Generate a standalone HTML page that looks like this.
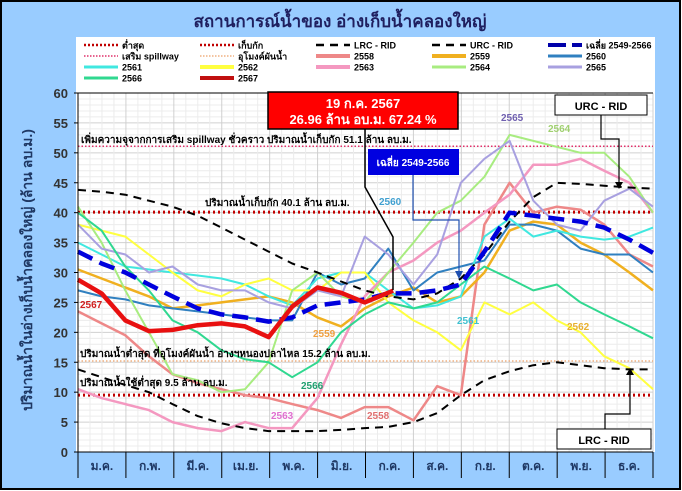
<!DOCTYPE html>
<html><head><meta charset="utf-8">
<style>
html,body{margin:0;padding:0;background:#fff}
#wrap{position:relative;width:682px;height:491px;overflow:hidden}
svg{display:block}
</style></head>
<body>
<div id="wrap">
<svg id="chart" width="682" height="491" xmlns="http://www.w3.org/2000/svg" font-family="'Liberation Sans','Noto Sans CJK SC',sans-serif">
<rect x="1" y="1" width="679" height="488" fill="#99ccff" stroke="#000" stroke-width="2"/>
<rect x="76" y="37" width="579" height="415" fill="#fff"/>
<text x="340" y="27" text-anchor="middle" font-size="17" font-weight="bold" fill="#1f1f5f">สถานการณ์น้ำของ อ่างเก็บน้ำคลองใหญ่</text>
<g id="grid"></g>
<g id="refs"></g>
<g id="series"></g>
<g id="axes"></g>
<g id="legend"></g>
<text x="32" y="270" transform="rotate(-90 32 270)" text-anchor="middle" font-size="14" font-weight="bold" fill="#1f3864">ปริมาณน้ำในอ่างเก็บน้ำคลองใหญ่ (ล้าน ลบ.ม.)</text>
<g font-size="10" font-weight="bold" fill="#000">
<text x="81" y="143">เพิ่มความจุจากการเสริม spillway ชั่วคราว ปริมาณน้ำเก็บกัก 51.1 ล้าน ลบ.ม.</text>
<text x="205" y="206">ปริมาณน้ำเก็บกัก 40.1 ล้าน ลบ.ม.</text>
<text x="80" y="357">ปริมาณน้ำต่ำสุด ที่อุโมงค์ผันน้ำ อ่างฯหนองปลาไหล 15.2 ล้าน ลบ.ม.</text>
<text x="80" y="386">ปริมาณน้ำใช้ต่ำสุด 9.5 ล้าน ลบ.ม.</text>
</g>
<g font-size="10" font-weight="bold">
<text x="80" y="308" fill="#d02020">2567</text>
<text x="313" y="337" fill="#f0a040">2559</text>
<text x="301" y="389" fill="#20a070">2566</text>
<text x="271" y="419" fill="#e070d0">2563</text>
<text x="367" y="419" fill="#e07070">2558</text>
<text x="457" y="324" fill="#40c0d0">2561</text>
<text x="567" y="330" fill="#e8b030">2562</text>
<text x="379" y="205" fill="#40a0d0">2560</text>
<text x="501" y="121" fill="#7060b0">2565</text>
<text x="548" y="132" fill="#a0d070">2564</text>
</g>
<g id="annot">
<polyline points="365,128 365,187 393,237 393,290" fill="none" stroke="#000" stroke-width="1.5"/>
<rect x="268" y="92" width="190" height="37" fill="#ff0000" stroke="#000" stroke-width="1.5"/>
<text x="363" y="108" text-anchor="middle" font-size="13" font-weight="bold" fill="#fff">19 ก.ค. 2567</text>
<text x="363" y="124" text-anchor="middle" font-size="13" font-weight="bold" fill="#fff">26.96 ล้าน อบ.ม. 67.24 %</text>
<polyline points="413,175 413,220 459,220 459,272" fill="none" stroke="#2050b0" stroke-width="1.2"/>
<polygon points="455,271 463,271 459,279" fill="#2050b0"/>
<rect x="368" y="149" width="91" height="26" fill="#0000e0"/>
<text x="413" y="166" text-anchor="middle" font-size="10" font-weight="bold" fill="#fff">เฉลี่ย 2549-2566</text>
<polyline points="601,114 601,139 619,139 619,183" fill="none" stroke="#000" stroke-width="1.2"/>
<polygon points="615,182 623,182 619,189" fill="#000"/>
<rect x="555" y="95" width="92" height="20" fill="#fff" stroke="#000"/>
<text x="601" y="110" text-anchor="middle" font-size="11" font-weight="bold">URC - RID</text>
<polyline points="605,429 605,414 630,414 630,374" fill="none" stroke="#000" stroke-width="1.2"/>
<polygon points="626,375 634,375 630,368" fill="#000"/>
<rect x="557" y="429" width="94" height="20" fill="#fff" stroke="#000"/>
<text x="604" y="444" text-anchor="middle" font-size="11" font-weight="bold">LRC - RID</text>
</g>
</svg>
</div>
<script>
const months=["ม.ค.","ก.พ.","มี.ค.","เม.ย.","พ.ค.","มิ.ย.","ก.ค.","ส.ค.","ก.ย.","ต.ค.","พ.ย.","ธ.ค."];
const yTicks=[0,5,10,15,20,25,30,35,40,45,50,55,60];
const halfMonthDays=[0,15,30,45,60,76,91,106,121,136,152,167,182,197,213,228,243,258,274,289,304,319,334,350,365];
const refLevels=[51.1,40.1,15.2,9.5];
const lrc=[13.8,12.5,11.2,10,8,6,4.8,4,3.5,3.5,3.5,3.7,4,4.2,5,6.5,9.5,12,13.5,14.5,15,14.5,14,13.8,13.8];
const urc=[43.8,43.5,43,42,41,39.5,37.5,35.5,33.5,31.5,30,28.5,27,26,25.5,26.5,29,33,38.5,42.6,45,44.8,44.5,44.2,44];
const avg=[33.5,31.5,30,28,26,24,23,22.5,21.8,22.5,24.5,25,25.5,26.5,26.5,27,28,33.5,40,39.5,39,38.5,37.5,35.5,33.3];
const y2558=[23.5,21.5,19.5,16,13,11.5,10.5,9.5,9,8,7,5.7,7.5,7.5,5.3,11,9.5,38,45,40,41,40.5,38,33,31];
const y2559=[30.5,29,27.5,26,24,24.5,25,25.5,26,25,22.5,21,24,26,27.5,25,26,30,37,38.5,38,35,33,30,27];
const y2560=[27,26,25.5,24.5,24,23.5,23,22.5,22,22,30,28,29,34,27,30,31,32,38,38,37,34,33,33,30];
const y2561=[35,33,31,30.5,30,29.5,29,28,26,24.5,29,30,30,27,24,24.5,26,36,39,36,37,36,35.5,36,37.5];
const y2562=[38,37,36,33,30,27,26,28,29,27,27,30,30,25,22,20,17,25,23,25,22,20,16,14,10.5];
const y2563=[10.5,9,8,7,5,4,3.5,5,4,4,9,18,26,30,32,35,37,40,43,48,48,49,47,45,40];
const y2564=[41,35,27,20,13,12,10,10.5,15,27,30,26,25,30,35,40,42,46,53,52,51,50,50,46,40];
const y2565=[38,34,33,30,31,28,27,27,25,24,27,26,36,33,28,33,45,49,52,42,38,37,42,44,41];
const y2566=[40,37,31,27,22,20,17,15.5,15,12.5,15,20,23,25,24,25,28,31,29,27,28,25,23,21,19];
const days2567=[0,15,30,45,60,76,91,106,121,136,152,167,182,200];
const y2567=[28.8,26.5,22,20.2,20.4,21.2,21.5,21,19.2,24.3,27.5,26.6,25,26.96];

const X0=78,X1=653,Y0=452,Y1=93;
const xs=d=>X0+d/365*(X1-X0);
const ys=v=>Y0-v/60*(Y0-Y1);
const NS="http://www.w3.org/2000/svg";
function mk(tag,parent){const e=document.createElementNS(NS,tag);parent.appendChild(e);return e;}

const grid=document.getElementById('grid');
for(let v=0;v<=60;v++){
  const l=mk('line',grid);
  
  
  l.setAttribute('x1',X0);l.setAttribute('x2',X1);l.setAttribute('y1',ys(v));l.setAttribute('y2',ys(v));
  l.setAttribute('stroke',v%5===0?'#d0d0d0':'#ececec');l.setAttribute('stroke-width','1');
}
for(let i=0;i<=48;i++){
  const d=i*365/48;
  const l=mk('line',grid);
  
  
  l.setAttribute('x1',xs(d));l.setAttribute('x2',xs(d));l.setAttribute('y1',Y1);l.setAttribute('y2',Y0);
  l.setAttribute('stroke',i%4===0?'#d0d0d0':'#ececec');
}
const refs=document.getElementById('refs');
const refStyles=[['#e0306a',1.5,'1.5 2'],['#c00000',3,'2 3'],['#f0b080',1.5,'1.5 2'],['#c00000',3,'2 3']];
refLevels.forEach((v,i)=>{
  const l=mk('line',refs);
  
  
  l.setAttribute('x1',X0);l.setAttribute('x2',X1);l.setAttribute('y1',ys(v));l.setAttribute('y2',ys(v));
  l.setAttribute('stroke',refStyles[i][0]);l.setAttribute('stroke-width',refStyles[i][1]);l.setAttribute('stroke-dasharray',refStyles[i][2]);
});
const series=document.getElementById('series');
function line(name,days,vals,color,w,dash){
  const p=mk('polyline',series);
  
  
  p.setAttribute('points',vals.map((v,i)=>xs(days[i]).toFixed(1)+','+ys(v).toFixed(1)).join(' '));
  p.setAttribute('fill','none');p.setAttribute('stroke',color);p.setAttribute('stroke-width',w);
  p.setAttribute('stroke-linejoin','round');
  if(dash)p.setAttribute('stroke-dasharray',dash);
}
line('series-2558',halfMonthDays,y2558,'#ee8888',2.5);
line('series-2559',halfMonthDays,y2559,'#f0b020',2.5);
line('series-2560',halfMonthDays,y2560,'#3080c0',2);
line('series-2561',halfMonthDays,y2561,'#40e8e0',2);
line('series-2562',halfMonthDays,y2562,'#ffff40',2);
line('series-2563',halfMonthDays,y2563,'#f498c0',2.5);
line('series-2564',halfMonthDays,y2564,'#a8ec80',2);
line('series-2565',halfMonthDays,y2565,'#a8a0e0',2);
line('series-2566',halfMonthDays,y2566,'#30d890',2);
line('series-lrc',halfMonthDays,lrc,'#000',2,'8 6');
line('series-urc',halfMonthDays,urc,'#000',2,'8 6');
line('series-average',halfMonthDays,avg,'#0000dd',4.5,'16 8');
line('series-2567',days2567,y2567,'#e81010',4.5);

const axes=document.getElementById('axes');
const ax=mk('line',axes);


ax.setAttribute('x1',X0);ax.setAttribute('x2',X0);ax.setAttribute('y1',Y1);ax.setAttribute('y2',Y0);ax.setAttribute('stroke','#000');
const bx=mk('line',axes);


bx.setAttribute('x1',X0);bx.setAttribute('x2',X1);bx.setAttribute('y1',Y0);bx.setAttribute('y2',Y0);bx.setAttribute('stroke','#000');
const tp=mk('line',axes);


tp.setAttribute('x1',X0);tp.setAttribute('x2',X1);tp.setAttribute('y1',Y1);tp.setAttribute('y2',Y1);tp.setAttribute('stroke','#000');
yTicks.forEach(v=>{
  const t=mk('text',axes);
  
  
  t.setAttribute('x',68);t.setAttribute('y',ys(v)+5);t.setAttribute('text-anchor','end');
  t.setAttribute('font-size','13');t.setAttribute('font-weight','bold');t.setAttribute('fill','#333');
  t.textContent=v;
  const k=mk('line',axes);
  
  
  k.setAttribute('x1',X0-4);k.setAttribute('x2',X0);k.setAttribute('y1',ys(v));k.setAttribute('y2',ys(v));k.setAttribute('stroke','#000');
});
months.forEach((m,i)=>{
  const xa=xs(i*365/12),xb=xs((i+1)*365/12);
  const t=mk('text',axes);
  
  
  t.setAttribute('x',(xa+xb)/2);t.setAttribute('y',470);t.setAttribute('text-anchor','middle');
  t.setAttribute('font-size','12');t.setAttribute('font-weight','bold');t.setAttribute('fill','#1f3864');
  t.textContent=m;
  const d=mk('line',axes);
  
  
  d.setAttribute('x1',xa);d.setAttribute('x2',xa);d.setAttribute('y1',Y0);d.setAttribute('y2',478);d.setAttribute('stroke','#000');
});
const dl=mk('line',axes);


dl.setAttribute('x1',X1);dl.setAttribute('x2',X1);dl.setAttribute('y1',Y0);dl.setAttribute('y2',478);dl.setAttribute('stroke','#000');

const legendNames=["ต่ำสุด","เก็บกัก","LRC - RID","URC - RID","เฉลี่ย 2549-2566","เสริม spillway","อุโมงค์ผันน้ำ","2558","2559","2560","2561","2562","2563","2564","2565","2566","2567"];
const legendStyles=[['#c00000',2.5,'2 2'],['#c00000',2.5,'2 2'],['#000',2.5,'8 6'],['#000',2.5,'8 6'],['#0000aa',4,'18 6'],['#e0306a',1.5,'1.5 1.5'],['#f0b080',1.5,'1.5 1.5'],['#ee8888',4],['#f0b020',4],['#3080c0',3],['#40e8e0',3],['#ffff40',4],['#f498c0',4],['#a8ec80',3],['#a8a0e0',3],['#30d890',3],['#c01010',4]];
const lg=document.getElementById('legend');
legendNames.forEach((n,i)=>{
  const col=i%5,row=Math.floor(i/5);
  const x=84+col*116,y=45+row*11;
  const s=legendStyles[i];
  const l=mk('line',lg);
  
  
  l.setAttribute('x1',x);l.setAttribute('x2',x+34);l.setAttribute('y1',y);l.setAttribute('y2',y);
  l.setAttribute('stroke',s[0]);l.setAttribute('stroke-width',s[1]);if(s[2])l.setAttribute('stroke-dasharray',s[2]);
  const t=mk('text',lg);
  
  
  t.setAttribute('x',x+38);t.setAttribute('y',y+3.5);t.setAttribute('font-size','9');t.setAttribute('font-weight','bold');
  t.textContent=n;
});
</script>
</body></html>
